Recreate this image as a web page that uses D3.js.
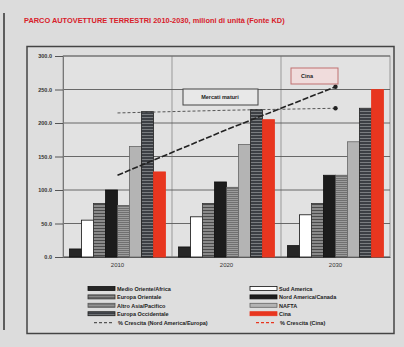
<!DOCTYPE html>
<html>
<head>
<meta charset="utf-8">
<script src="https://cdn.jsdelivr.net/npm/d3@7"></script>
<style>
  html, body { margin: 0; padding: 0; background: #dcdcdc; }
  svg { display: block; font-family: "Liberation Sans", Arial, sans-serif; }
</style>
</head>
<body>
<svg id="chart" width="404" height="347"></svg>
<script>
// Categories (years) and bar series
const years = ["2010", "2020", "2030"];
const barSeries = [
  "Medio Oriente/Africa",
  "Sud America",
  "Europa Orientale",
  "Nord America/Canada",
  "Altro Asia/Pacifico",
  "NAFTA",
  "Europa Occidentale",
  "Cina"
];
// Values per series, in millions, one per year
const medioOriente   = [12, 15, 17];
const sudAmerica     = [55, 60, 63];
const europaOrient   = [80, 80, 80];
const nordAmerica    = [100, 112, 122];
const altroAsia      = [77, 104, 122];
const nafta          = [165, 168, 172];
const europaOccid    = [217, 220, 222];
const cina           = [127, 205, 250];
const barValues = [medioOriente, sudAmerica, europaOrient, nordAmerica, altroAsia, nafta, europaOccid, cina];

// Line series
const lineSeries = ["% Crescita (Nord America/Europa)", "% Crescita (Cina)"];
const crescitaMaturi = [215, 219, 222];
const crescitaCina   = [122, 190, 254];

const yTicks = [0, 50, 100, 150, 200, 250, 300];
const title = "PARCO AUTOVETTURE TERRESTRI 2010-2030, milioni di unità (Fonte KD)";

const svg = d3.select("#chart");
const defs = svg.append("defs");

// Striped fills
function stripes(id, bg, fg, gap, w) {
  const p = defs.append("pattern").attr("id", id)
    .attr("patternUnits", "userSpaceOnUse").attr("width", 4).attr("height", gap);
  p.append("rect").attr("width", 4).attr("height", gap).attr("fill", bg);
  p.append("rect").attr("width", 4).attr("height", w).attr("fill", fg);
}
stripes("pStripeGrey", "#8a8a8a", "#4a4a4a", 3, 1);
stripes("pStripeLight", "#9c9c9c", "#707070", 2, 1);
stripes("pStripeDark", "#3c3f44", "#7a7d80", 3, 1);

const fills = ["#262626", "#ffffff", "url(#pStripeGrey)", "#1c1c1c", "url(#pStripeLight)", "#b4b4b4", "url(#pStripeDark)", "#e8361f"];
const strokes = ["#111", "#111", "#333", "#111", "#555", "#666", "#222", "#e8361f"];

// Outer frame
svg.append("line").attr("x1", 4).attr("x2", 4).attr("y1", 13).attr("y2", 330)
  .attr("stroke", "#333").attr("stroke-width", 1.5);

// Title
svg.append("text").attr("x", 24).attr("y", 23)
  .attr("fill", "#d8202a").attr("font-size", 7.4).attr("font-weight", "bold")
  .text(title);

// Chart panel
svg.append("rect").attr("x", 27).attr("y", 46.5).attr("width", 367).attr("height", 287)
  .attr("fill", "#dedede").attr("stroke", "#444").attr("stroke-width", 1.5);

// Scales
const x0 = d3.scaleBand().domain(years).range([63, 390]).padding(0);
const x1 = d3.scaleBand().domain(barSeries).range([0, x0.bandwidth()])
  .paddingInner(0).paddingOuter(0.54);
const y = d3.scaleLinear().domain([0, 300]).range([257, 56]);

// Plot area
svg.append("rect").attr("x", 63).attr("y", 56).attr("width", 327).attr("height", 201)
  .attr("fill", "#e2e2e2").attr("stroke", "#888").attr("stroke-width", 0.8);

// Group separators
svg.append("g").selectAll("line").data(years.slice(1)).join("line")
  .attr("x1", d => x0(d)).attr("x2", d => x0(d))
  .attr("y1", 56).attr("y2", 257).attr("stroke", "#999").attr("stroke-width", 1);

// Horizontal gridlines
svg.append("g").selectAll("line").data(yTicks).join("line")
  .attr("x1", 63).attr("x2", 390)
  .attr("y1", d => y(d)).attr("y2", d => y(d))
  .attr("stroke", "#5a5a5a").attr("stroke-width", 0.9);

// Y axis
const yAxis = svg.append("g").attr("transform", "translate(63,0)")
  .call(d3.axisLeft(y).tickValues(yTicks).tickFormat(d3.format(".1f")).tickSize(8).tickPadding(3));
yAxis.select(".domain").attr("stroke", "#777");
yAxis.selectAll(".tick line").attr("stroke", "#555");
yAxis.selectAll("text").attr("font-size", 5.5).attr("font-weight", "bold").attr("fill", "#333");

// X axis labels
const xAxis = svg.append("g").attr("transform", "translate(0,257)")
  .call(d3.axisBottom(x0).tickSize(0).tickPadding(6));
xAxis.select(".domain").attr("stroke", "#555");
xAxis.selectAll("text").attr("font-size", 6).attr("fill", "#333");

// Bars
const groups = svg.append("g").selectAll("g").data(years).join("g")
  .attr("transform", d => `translate(${x0(d)},0)`);
groups.selectAll("rect")
  .data((yr, gi) => barSeries.map((s, si) => ({ s, si, v: barValues[si][gi] })))
  .join("rect")
  .attr("x", d => x1(d.s))
  .attr("y", d => y(d.v))
  .attr("width", x1.bandwidth())
  .attr("height", d => y(0) - y(d.v))
  .attr("fill", d => fills[d.si])
  .attr("stroke", d => strokes[d.si])
  .attr("stroke-width", 0.8);

// Lines
const cx = d => x0(d) + x0.bandwidth() / 2;
const lineGen = d3.line().x(d => cx(d.yr)).y(d => y(d.v));
const maturi = years.map((yr, i) => ({ yr, v: crescitaMaturi[i] }));
const cinaL = years.map((yr, i) => ({ yr, v: crescitaCina[i] }));

svg.append("path").datum(maturi).attr("d", lineGen)
  .attr("fill", "none").attr("stroke", "#555").attr("stroke-width", 1)
  .attr("stroke-dasharray", "3,2");
svg.append("circle").attr("cx", cx(years[2])).attr("cy", y(crescitaMaturi[2])).attr("r", 2.2).attr("fill", "#222");

svg.append("path").datum(cinaL).attr("d", lineGen)
  .attr("fill", "none").attr("stroke", "#222").attr("stroke-width", 1.6)
  .attr("stroke-dasharray", "6,2");
svg.append("circle").attr("cx", cx(years[2])).attr("cy", y(crescitaCina[2])).attr("r", 2.2).attr("fill", "#222");

// Callout boxes
svg.append("rect").attr("x", 183).attr("y", 89).attr("width", 75).attr("height", 16)
  .attr("fill", "#e8e8e8").attr("stroke", "#444").attr("stroke-width", 1);
svg.append("text").attr("x", 220).attr("y", 99).attr("text-anchor", "middle")
  .attr("font-size", 5.5).attr("font-weight", "bold").attr("fill", "#222").text("Mercati maturi");

svg.append("rect").attr("x", 291).attr("y", 68).attr("width", 47).attr("height", 16)
  .attr("fill", "#f0dcdc").attr("stroke", "#c07070").attr("stroke-width", 1);
svg.append("text").attr("x", 307).attr("y", 78).attr("text-anchor", "middle")
  .attr("font-size", 5.5).attr("font-weight", "bold").attr("fill", "#222").text("Cina");

// Legend: two columns, filled row by row
const legendItems = [];
barSeries.forEach((s, i) => legendItems.push({ name: s, type: "bar", i }));
lineSeries.forEach((s, i) => legendItems.push({ name: s, type: "line", i }));
const leg = svg.append("g").selectAll("g").data(legendItems).join("g")
  .attr("transform", (d, k) => `translate(${k % 2 === 0 ? 88 : 250},${289 + Math.floor(k / 2) * 8.4})`);
leg.each(function(d) {
  const g = d3.select(this);
  if (d.type === "bar") {
    g.append("rect").attr("x", 0).attr("y", -2.5).attr("width", 27).attr("height", 4)
      .attr("fill", fills[d.i]).attr("stroke", strokes[d.i]).attr("stroke-width", 0.8);
  } else {
    g.append("line").attr("x1", 6).attr("x2", 26).attr("y1", 0).attr("y2", 0)
      .attr("stroke", d.i === 0 ? "#555" : "#e8361f").attr("stroke-width", 1.2)
      .attr("stroke-dasharray", "3,2");
  }
  g.append("text").attr("x", d.type === "bar" ? 29 : 30).attr("y", 2)
    .attr("font-size", 5.5).attr("font-weight", "bold").attr("fill", "#222").text(d.name);
});
</script>
</body>
</html>
